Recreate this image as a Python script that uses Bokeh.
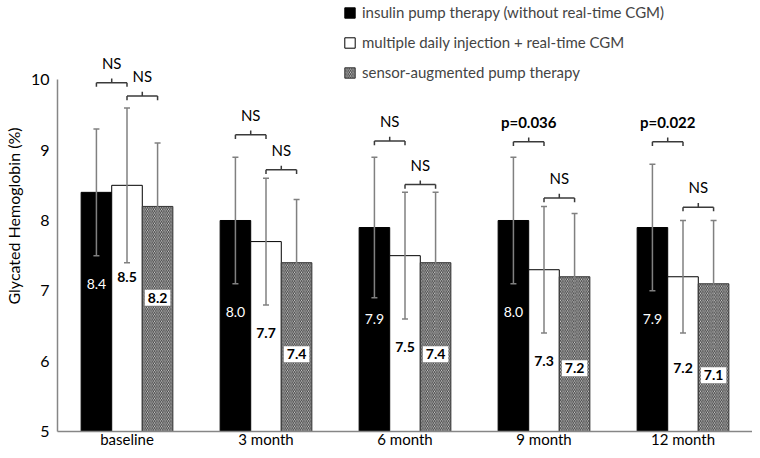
from bokeh.plotting import figure
from bokeh.models import (ColumnDataSource, FactorRange, Range1d, Legend, LegendItem,
                          Whisker, FixedTicker, TeeHead)
from bokeh.transform import dodge
from bokeh.core.properties import value
from bokeh.embed import file_html
from bokeh.resources import INLINE

FONT = "Lato"

# ---------------- data ----------------
categories = ["baseline", "3 month", "6 month", "9 month", "12 month"]
series_names = ["insulin pump therapy (without real-time CGM)",
                "multiple daily injection + real-time CGM",
                "sensor-augmented pump therapy"]
pump_mean = [8.4, 8.0, 7.9, 8.0, 7.9]
pump_sd = [0.9, 0.9, 1.0, 0.9, 0.9]
mdi_mean = [8.5, 7.7, 7.5, 7.3, 7.2]
mdi_sd = [1.1, 0.9, 0.9, 0.9, 0.8]
sap_mean = [8.2, 7.4, 7.4, 7.2, 7.1]
sap_sd = [0.9, 0.9, 1.0, 0.9, 0.9]
sig_pump_vs_mdi = ["NS", "NS", "NS", "p=0.036", "p=0.022"]
sig_mdi_vs_sap = ["NS", "NS", "NS", "NS", "NS"]
bracket1_y = [9.96, 9.22, 9.13, 9.12, 9.12]
bracket2_y = [9.77, 8.72, 8.51, 8.32, 8.19]
y_ticks = [5, 6, 7, 8, 9, 10]

# ---------------- layout constants ----------------
W = 0.22          # bar width (fraction of category)
LABEL_DROP = 1.3  # value labels drawn this far below the bar top
TICK = 0.06       # bracket tick length (data units)
TXT_UP = 0.28     # significance text above bracket
BOTTOM = 18
FRAME_H = 450 - BOTTOM
PX_PER_UNIT = 70.5

def col(vals, f):
    return [f(v) for v in vals]

src = ColumnDataSource(dict(
    cat=categories,
    pump=pump_mean, mdi=mdi_mean, sap=sap_mean,
    pump_hi=[m + s for m, s in zip(pump_mean, pump_sd)],
    pump_lo=[m - s for m, s in zip(pump_mean, pump_sd)],
    mdi_hi=[m + s for m, s in zip(mdi_mean, mdi_sd)],
    mdi_lo=[m - s for m, s in zip(mdi_mean, mdi_sd)],
    sap_hi=[m + s for m, s in zip(sap_mean, sap_sd)],
    sap_lo=[m - s for m, s in zip(sap_mean, sap_sd)],
    pump_lbl=col(pump_mean, lambda v: f"{v:.1f}"),
    mdi_lbl=col(mdi_mean, lambda v: f"{v:.1f}"),
    sap_lbl=col(sap_mean, lambda v: f"{v:.1f}"),
    pump_ly=col(pump_mean, lambda v: v - LABEL_DROP),
    mdi_ly=col(mdi_mean, lambda v: v - LABEL_DROP),
    sap_ly=col(sap_mean, lambda v: v - LABEL_DROP),
    b1=bracket1_y, b1_lo=col(bracket1_y, lambda v: v - TICK), b1_hi=col(bracket1_y, lambda v: v + TICK),
    b1_t=col(bracket1_y, lambda v: v + TXT_UP),
    b2=bracket2_y, b2_lo=col(bracket2_y, lambda v: v - TICK), b2_hi=col(bracket2_y, lambda v: v + TICK),
    b2_t=col(bracket2_y, lambda v: v + TXT_UP),
    s1=sig_pump_vs_mdi, s2=sig_mdi_vs_sap,
    s1_style=["bold" if s.startswith("p") else "normal" for s in sig_pump_vs_mdi],
    s2_style=["bold" if s.startswith("p") else "normal" for s in sig_mdi_vs_sap],
))

p = figure(x_range=FactorRange(*categories, range_padding=0),
           y_range=Range1d(5, 5 + FRAME_H / PX_PER_UNIT),
           width=752, height=450,
           min_border_left=51, min_border_right=0, min_border_top=0, min_border_bottom=BOTTOM,
           output_backend="svg", toolbar_location=None)
p.outline_line_color = None
p.xgrid.grid_line_color = None
p.ygrid.grid_line_color = None
p.background_fill_color = "white"

xr = p.x_range
x_pump = dodge("cat", -W, range=xr)
x_mdi = dodge("cat", 0, range=xr)
x_sap = dodge("cat", W, range=xr)
x_mid1 = dodge("cat", -W / 2, range=xr)
x_mid2 = dodge("cat", W / 2, range=xr)

r1 = p.vbar(x=x_pump, top="pump", bottom=5, width=W, source=src,
            fill_color="black", line_color="black", line_width=1)
r2 = p.vbar(x=x_mdi, top="mdi", bottom=5, width=W, source=src,
            fill_color="white", line_color="black", line_width=1)
r3 = p.vbar(x=x_sap, top="sap", bottom=5, width=W, source=src,
            fill_color="#dcdcdc", line_color="#333333", line_width=1,
            hatch_pattern="\\", hatch_color="#3a3a3a", hatch_scale=3.5, hatch_weight=1)

ERR = "#808080"
for xb, lo, hi in [(x_pump, "pump_lo", "pump_hi"), (x_mdi, "mdi_lo", "mdi_hi"), (x_sap, "sap_lo", "sap_hi")]:
    w = Whisker(base=xb, lower=lo, upper=hi, source=src, line_color=ERR, line_width=1.5,
                upper_head=TeeHead(size=6, line_color=ERR, line_width=1.5),
                lower_head=TeeHead(size=6, line_color=ERR, line_width=1.5))
    w.level = "overlay"
    p.add_layout(w)

# value labels
p.text(x=x_pump, y="pump_ly", text="pump_lbl", source=src, text_align="center",
       text_baseline="middle", text_color="white", text_font=value(FONT),
       text_font_size="14px", text_font_style="normal")
p.text(x=x_mdi, y="mdi_ly", text="mdi_lbl", source=src, text_align="center",
       text_baseline="middle", text_color="black", text_font=value(FONT),
       text_font_size="14px", text_font_style="bold")
p.text(x=x_sap, y="sap_ly", text="sap_lbl", source=src, text_align="center",
       text_baseline="middle", text_color="black", text_font=value(FONT),
       text_font_size="14px", text_font_style="bold",
       background_fill_color="white", padding=3)

# significance brackets
BR = "#3a3a3a"
for xa, xb, xm, b, blo, bhi, bt, s, st in [
        (x_pump, x_mdi, x_mid1, "b1", "b1_lo", "b1_hi", "b1_t", "s1", "s1_style"),
        (x_mdi, x_sap, x_mid2, "b2", "b2_lo", "b2_hi", "b2_t", "s2", "s2_style")]:
    p.segment(x0=xa, y0=b, x1=xb, y1=b, source=src, line_color=BR, line_width=1.5)
    p.segment(x0=xa, y0=b, x1=xa, y1=blo, source=src, line_color=BR, line_width=1.5)
    p.segment(x0=xb, y0=b, x1=xb, y1=blo, source=src, line_color=BR, line_width=1.5)
    p.segment(x0=xm, y0=b, x1=xm, y1=bhi, source=src, line_color=BR, line_width=1.5)
    p.text(x=xm, y=bt, text=s, source=src, text_align="center", text_baseline="middle",
           text_color="black", text_font=value(FONT), text_font_size="15px",
           text_font_style=st)

# axes
AX = "#868686"
p.yaxis.ticker = FixedTicker(ticks=y_ticks)
p.yaxis.bounds = (5, 10)
p.yaxis.axis_line_color = AX
p.yaxis.axis_line_width = 1.5
p.yaxis.major_tick_line_color = None
p.yaxis.minor_tick_line_color = None
p.yaxis.major_tick_out = 0
p.yaxis.major_tick_in = 0
p.yaxis.major_label_standoff = 8
p.yaxis.major_label_text_font = FONT
p.yaxis.major_label_text_font_size = "16px"
p.yaxis.major_label_text_color = "black"
p.yaxis.axis_label = "Glycated Hemoglobin (%)"
p.yaxis.axis_label_text_font = FONT
p.yaxis.axis_label_text_font_size = "16px"
p.yaxis.axis_label_text_font_style = "normal"
p.yaxis.axis_label_text_color = "black"
p.yaxis.axis_label_standoff = 5

p.xaxis.axis_line_color = AX
p.xaxis.axis_line_width = 1.5
p.xaxis.major_tick_line_color = None
p.xaxis.minor_tick_line_color = None
p.xaxis.major_tick_out = 0
p.xaxis.major_tick_in = 0
p.xaxis.major_label_standoff = -2
p.xaxis.major_label_text_font = FONT
p.xaxis.major_label_text_font_size = "15px"
p.xaxis.major_label_text_color = "black"

legend = Legend(items=[LegendItem(label=series_names[0], renderers=[r1]),
                       LegendItem(label=series_names[1], renderers=[r2]),
                       LegendItem(label=series_names[2], renderers=[r3])],
                location=(286, FRAME_H - 83), orientation="vertical",
                glyph_width=13, glyph_height=13, label_height=20, spacing=10,
                padding=0, margin=0, label_standoff=6,
                border_line_color=None, background_fill_alpha=0,
                label_text_font=FONT, label_text_font_size="15px")
p.add_layout(legend)

open("out.html", "w").write(file_html(p, INLINE))
